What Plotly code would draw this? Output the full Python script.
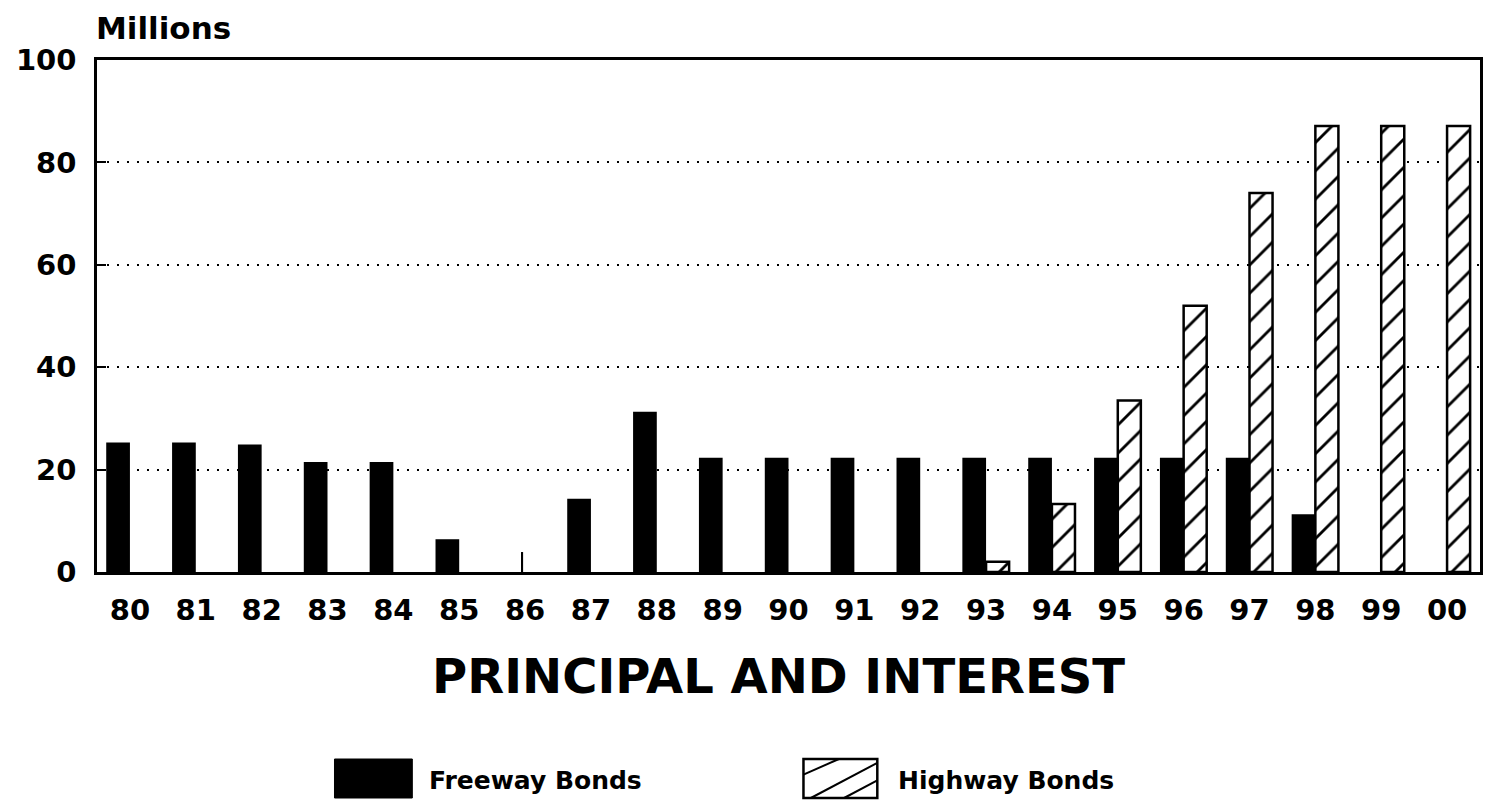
import plotly.graph_objects as go

years = ["80", "81", "82", "83", "84", "85", "86", "87", "88", "89", "90",
         "91", "92", "93", "94", "95", "96", "97", "98", "99", "00"]
freeway = [25.3, 25.3, 24.9, 21.5, 21.5, 6.4, 3.9, 14.3, 31.3, 22.3, 22.3,
           22.3, 22.3, 22.3, 22.3, 22.3, 22.3, 22.3, 11.3, 0, 0]
highway = [0, 0, 0, 0, 0, 0, 0, 0, 0, 0, 0,
           0, 0, 2.0, 13.3, 33.5, 52.0, 74.0, 87.1, 87.1, 87.1]
y_ticks = [0, 20, 40, 60, 80, 100]

FONT = "DejaVu Sans"
BAR_W_F = 0.36
BAR_W_H = 0.35
THIN_W = 0.03

f_width = [THIN_W if y == "86" else BAR_W_F for y in years]
f_offset = [-0.06 if y == "86" else -BAR_W_F for y in years]

# zero values are simply not drawn
f_plot = [v if v > 0 else None for v in freeway]
h_plot = [v if v > 0 else None for v in highway]

fig = go.Figure()
fig.add_trace(go.Bar(
    x=years, y=f_plot, name="Freeway Bonds",
    marker=dict(color="black", line=dict(color="black", width=0)),
    width=f_width, offset=f_offset, showlegend=False,
))
fig.add_trace(go.Bar(
    x=years, y=h_plot, name="Highway Bonds",
    marker=dict(color="white", line=dict(color="black", width=2.5),
                pattern=dict(shape="/", fgcolor="black", bgcolor="white",
                             fgopacity=1, fillmode="replace",
                             size=20, solidity=0.14)),
    width=BAR_W_H, offset=0.0, showlegend=False,
))

# page body has an 8px margin, so the figure is sized/offset to compensate
fig.update_layout(
    width=1483, height=801,
    margin=dict(l=89, r=8, t=52, b=237),
    paper_bgcolor="white", plot_bgcolor="white",
    font=dict(family=FONT, color="black"),
)
fig.update_xaxes(
    type="category", showgrid=False, zeroline=False,
    showline=True, linecolor="black", linewidth=2.5, mirror=True,
    ticks="", tickfont=dict(family=FONT, size=29, weight="bold", color="black"),
    ticklabelstandoff=10,
)
fig.update_yaxes(
    range=[0, 100], tickvals=y_ticks, ticktext=[str(v) for v in y_ticks],
    showgrid=True, gridcolor="black", gridwidth=2, griddash="2px,8px",
    zeroline=False, showline=True, linecolor="black", linewidth=2.5, mirror=True,
    ticks="inside", ticklen=9, tickwidth=2, tickcolor="black",
    tickfont=dict(family=FONT, size=29, weight="bold", color="black"),
    ticklabelstandoff=12,
)

# Axis titles
fig.add_annotation(text="Millions", xref="paper", yref="paper", x=-0.002, y=1.0625,
                   xanchor="left", yanchor="middle", showarrow=False,
                   font=dict(family=FONT, size=31, weight="bold", color="black"))
fig.add_annotation(text="PRINCIPAL AND INTEREST", xref="paper", yref="paper",
                   x=(780 - 97) / 1386, y=(572 - 676) / 512,
                   xanchor="center", yanchor="middle", showarrow=False,
                   font=dict(family=FONT, size=48, weight="bold", color="black"))

# Manual legend
ly0, ly1 = (572 - 798) / 512, (572 - 759) / 512
bx0, bx1 = (335 - 97) / 1386, (413 - 97) / 1386
hx0, hx1 = (805 - 97) / 1386, (879 - 97) / 1386
fig.add_shape(type="rect", xref="paper", yref="paper", x0=bx0, x1=bx1, y0=ly0, y1=ly1,
              fillcolor="black", line=dict(color="black", width=1))
fig.add_shape(type="rect", xref="paper", yref="paper", x0=hx0, x1=hx1, y0=ly0, y1=ly1,
              fillcolor="white", line=dict(color="black", width=2.5))
hw, hh = hx1 - hx0, ly1 - ly0
for (ax, ay, bx, by) in [(0.0, 0.6, 0.48, 1.0), (0.1, 0.0, 1.0, 0.9), (0.55, 0.0, 1.0, 0.45)]:
    fig.add_shape(type="line", xref="paper", yref="paper",
                  x0=hx0 + ax * hw, y0=ly0 + ay * hh, x1=hx0 + bx * hw, y1=ly0 + by * hh,
                  line=dict(color="black", width=2))
ty = (572 - 780) / 512
fig.add_annotation(text="Freeway Bonds", xref="paper", yref="paper",
                   x=(428 - 97) / 1386, y=ty, xanchor="left", yanchor="middle",
                   showarrow=False, font=dict(family=FONT, size=25, weight="bold", color="black"))
fig.add_annotation(text="Highway Bonds", xref="paper", yref="paper",
                   x=(898 - 97) / 1386, y=ty, xanchor="left", yanchor="middle",
                   showarrow=False, font=dict(family=FONT, size=25, weight="bold", color="black"))

fig.write_html("out.html")
